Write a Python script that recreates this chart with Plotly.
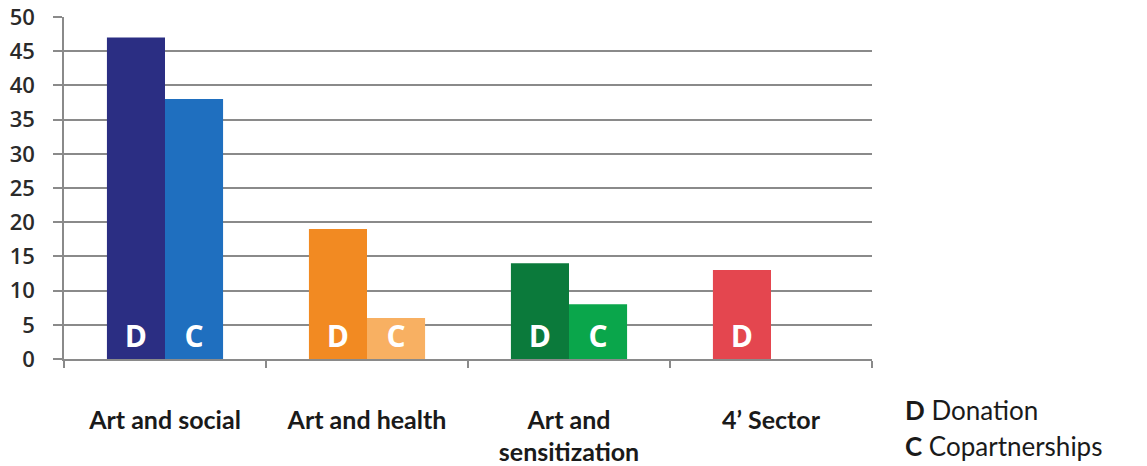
import plotly.graph_objects as go

categories = ["Art and social", "Art and health", "Art and<br>sensitization", "4’ Sector"]
donation = [47, 19, 14, 13]
copartnership = [38, 6, 8, None]
donation_labels = ["D", "D", "D", "D"]
copartnership_labels = ["C", "C", "C", ""]
donation_colors = ["#2b2e83", "#f28a22", "#0b7a3b", "#e4464f"]
copartnership_colors = ["#1f6fbf", "#f8b062", "#0aa64b", "#ffffff"]
y_ticks = [0, 5, 10, 15, 20, 25, 30, 35, 40, 45, 50]

bar_font = dict(family="Open Sans", size=30, color="white", weight="bold")

PL, PR, PT, PB = 64, 872, 17, 359   # plot area in screen pixels
W, H = 1147, 466

fig = go.Figure()
fig.add_trace(go.Bar(
    x=categories, y=donation, name="Donation",
    marker=dict(color=donation_colors, line=dict(width=0)),
    text=donation_labels, textposition="inside", insidetextanchor="start",
    textfont=bar_font, textangle=0, constraintext="none",
))
fig.add_trace(go.Bar(
    x=categories, y=copartnership, name="Copartnerships",
    marker=dict(color=copartnership_colors, line=dict(width=0)),
    text=copartnership_labels, textposition="inside", insidetextanchor="start",
    textfont=bar_font, textangle=0, constraintext="none",
))

pw = PR - PL
ph = PB - PT

def py(ys):
    return 1 - (ys - PT) / ph

fig.update_layout(
    width=W, height=H,
    margin=dict(l=PL, r=W - PR, t=PT, b=H - PB),
    paper_bgcolor="white", plot_bgcolor="white",
    barmode="group", bargap=0.425, bargroupgap=0,
    showlegend=False,
    xaxis=dict(
        type="category", tickson="boundaries", ticks="outside", ticklen=7,
        tickcolor="#8a8a8a", tickwidth=1.5, automargin=False,
        showline=True, linecolor="#8a8a8a", linewidth=1.5,
        showgrid=False, ticklabelstandoff=38,
        tickfont=dict(family="Lato", size=25, color="#1a1a1a", weight="bold"),
    ),
    yaxis=dict(
        range=[0, 50], tickvals=y_ticks, ticks="outside", ticklen=9,
        tickcolor="#8a8a8a", tickwidth=1.5, automargin=False,
        showline=True, linecolor="#8a8a8a", linewidth=1.5,
        showgrid=True, gridcolor="#8a8a8a", gridwidth=1.5,
        zeroline=False, ticklabelstandoff=14, ticklabeloverflow="allow",
        tickfont=dict(family="Open Sans", size=22, color="#2a2a2a", weight=600),
    ),
    annotations=[
        dict(xref="paper", yref="paper", x=(903 - PL) / pw, y=py(410),
             xanchor="left", yanchor="middle",
             text="<b>D</b> Donation", showarrow=False,
             font=dict(family="Lato", size=26, color="#1a1a1a")),
        dict(xref="paper", yref="paper", x=(903 - PL) / pw, y=py(446),
             xanchor="left", yanchor="middle",
             text="<b>C</b> Copartnerships", showarrow=False,
             font=dict(family="Lato", size=26, color="#1a1a1a")),
    ],
)

fig.write_html("out.html", config={"displayModeBar": False},
               post_script="document.body.style.margin='0';")
